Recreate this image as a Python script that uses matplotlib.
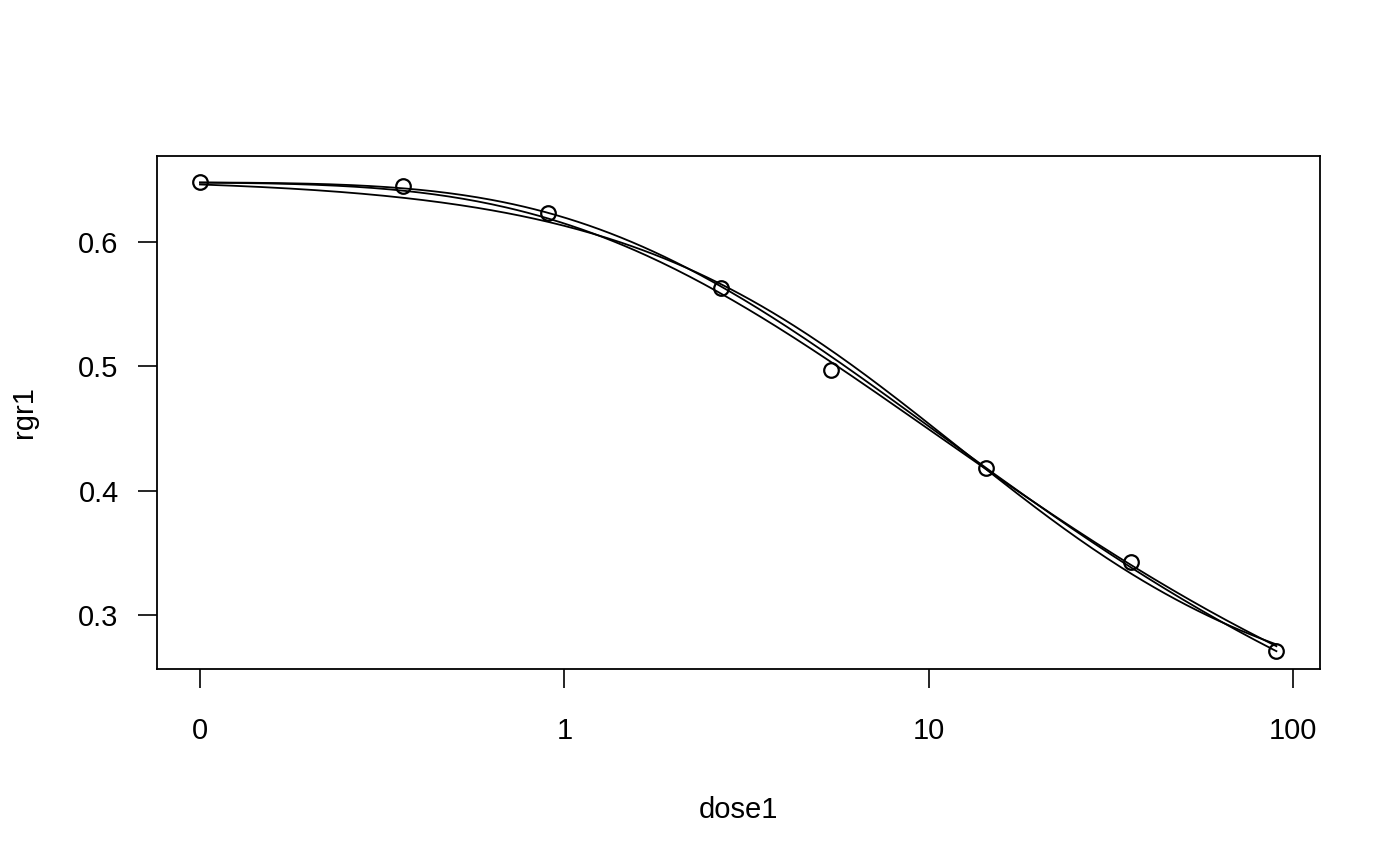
import numpy as np
import matplotlib
matplotlib.use("Agg")
import matplotlib.pyplot as plt

# observed data
dose1 = [0, 0.36, 0.9, 2.7, 5.4, 14.4, 36, 90]
rgr1 = [0.648, 0.645, 0.623, 0.563, 0.497, 0.4185, 0.343, 0.271]

# zero dose is drawn one decade below 1
zero_pos = 0.1
xtick_pos = [0.1, 1, 10, 100]
xtick_labels = ["0", "1", "10", "100"]
ytick_pos = [0.3, 0.4, 0.5, 0.6]

# fitted model parameters: log-logistic and two Weibull type 2
ll4 = dict(b=0.94, c=0.22, d=0.651, e=12.0)
w2a = dict(b=-0.46, c=0.10, d=0.648, e=10.6)
w2b = dict(b=-0.4417, c=0.10, d=0.648, e=10.34)


def ll4_fun(x, b, c, d, e):
    return c + (d - c) / (1 + np.exp(b * (np.log(x) - np.log(e))))


def w2_fun(x, b, c, d, e):
    return c + (d - c) * (1 - np.exp(-np.exp(b * (np.log(x) - np.log(e)))))


plt.rcParams['font.family'] = ['Liberation Sans', 'DejaVu Sans']

fig = plt.figure(figsize=(14, 8.66), dpi=100)
ax = fig.add_axes([0.1121, 0.2275, 0.8308, 0.5924])

xs = np.array(dose1, dtype=float)
xs = np.where(xs == 0, zero_pos, xs)

grid = np.logspace(np.log10(zero_pos), np.log10(max(dose1)), 300)
for fun, pars in [(ll4_fun, ll4), (w2_fun, w2a), (w2_fun, w2b)]:
    ax.plot(grid, fun(grid, **pars), color='black', linewidth=1.3)

ax.plot(xs, rgr1, linestyle='none', marker='o', markersize=10.5,
        markerfacecolor='none', markeredgecolor='black', markeredgewidth=1.6)

ax.set_xscale('log')
ax.set_xlim(0.0762, 118.6)
ax.set_ylim(0.2566, 0.6692)
ax.set_xticks(xtick_pos)
ax.set_xticklabels(xtick_labels)
ax.minorticks_off()
ax.set_yticks(ytick_pos)
ax.set_yticklabels([f"{v:.1f}" for v in ytick_pos])

ax.tick_params(axis='x', direction='out', length=13.5, width=1.2, labelsize=21, pad=21)
ax.tick_params(axis='y', direction='out', length=13.5, width=1.2, labelsize=21, pad=14)
for sp in ax.spines.values():
    sp.set_linewidth(1.3)

ax.set_xlabel("dose1", fontsize=21, labelpad=37)
ax.set_ylabel("rgr1", fontsize=21, labelpad=29)

plt.savefig("out.png", dpi=100, facecolor='white')
plt.close(fig)
